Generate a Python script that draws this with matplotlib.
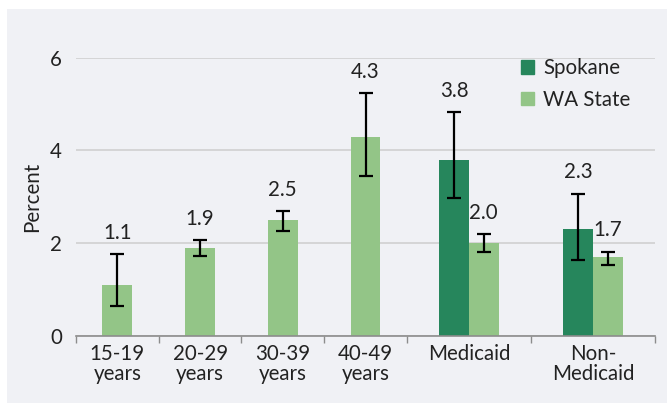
import numpy as np
import matplotlib
matplotlib.use("Agg")
import matplotlib.pyplot as plt
from matplotlib.patches import Rectangle

categories = ["15-19\nyears", "20-29\nyears", "30-39\nyears", "40-49\nyears", "Medicaid", "Non-\nMedicaid"]
cat_widths = [1, 1, 1, 1, 1.5, 1.5]
spokane = [np.nan, np.nan, np.nan, np.nan, 3.8, 2.3]
spokane_lo = [np.nan, np.nan, np.nan, np.nan, 2.98, 1.64]
spokane_hi = [np.nan, np.nan, np.nan, np.nan, 4.83, 3.07]
wa = [1.1, 1.9, 2.5, 4.3, 2.0, 1.7]
wa_lo = [0.65, 1.73, 2.26, 3.45, 1.81, 1.53]
wa_hi = [1.77, 2.07, 2.70, 5.24, 2.20, 1.82]
yticks = [0, 2, 4, 6]

DARK = "#26865C"
LIGHT = "#93C587"
BG = "#F0F1F5"
TXT = "#222222"
FONT = ["Lato", "DejaVu Sans"]
plt.rcParams["font.family"] = FONT

fig = plt.figure(figsize=(6.67, 4.04), dpi=100)
fig.patch.set_facecolor("white")
bgrect = Rectangle((7 / 667, 1 / 404), 660 / 667, 394 / 404,
                   transform=fig.transFigure, facecolor=BG,
                   edgecolor="none", zorder=-10)
fig.patches.append(bgrect)
ax = fig.add_axes([76 / 667, (404 - 336) / 404, (655 - 76) / 667, (336 - 57.7) / 404])
ax.set_facecolor("none")
ax.set_zorder(1)

edges = np.concatenate([[0], np.cumsum(cat_widths)])
centers = (edges[:-1] + edges[1:]) / 2
bw = 0.36

fs = 14.8
for i, c in enumerate(centers):
    has_sp = not np.isnan(spokane[i])
    if has_sp:
        xs = c - bw / 2
        xw = c + bw / 2
        ax.bar(xs, spokane[i], width=bw, color=DARK, zorder=3)
        ax.errorbar(xs, spokane[i], yerr=[[spokane[i] - spokane_lo[i]], [spokane_hi[i] - spokane[i]]],
                    fmt="none", ecolor="black", elinewidth=1.6, capsize=5, capthick=1.6, zorder=4)
        ax.annotate(f"{spokane[i]:.1f}", (xs, spokane_hi[i]), xytext=(0, 8), textcoords="offset points",
                    ha="center", va="bottom", fontsize=fs, color=TXT)
    else:
        xw = c
    ax.bar(xw, wa[i], width=bw, color=LIGHT, zorder=3)
    ax.errorbar(xw, wa[i], yerr=[[wa[i] - wa_lo[i]], [wa_hi[i] - wa[i]]],
                fmt="none", ecolor="black", elinewidth=1.6, capsize=5, capthick=1.6, zorder=4)
    ax.annotate(f"{wa[i]:.1f}", (xw, wa_hi[i]), xytext=(0, 8), textcoords="offset points",
                ha="center", va="bottom", fontsize=fs, color=TXT)

ax.set_xlim(edges[0], edges[-1])
ax.set_ylim(0, 6)
ax.set_yticks(yticks)
ax.set_yticklabels([str(t) for t in yticks], fontsize=fs, color=TXT)
ax.yaxis.grid(True, color="#D3D3D3", linewidth=1.3, zorder=1)
ax.set_axisbelow(True)
ax.tick_params(axis="y", length=0, pad=10)

ax.set_xticks(edges)
ax.set_xticklabels([""] * len(edges))
ax.tick_params(axis="x", length=5, width=1, color="#8C8C8C", direction="out")
ax.set_xticks(centers, minor=True)
ax.set_xticklabels(categories, minor=True, fontsize=fs, color=TXT, linespacing=1.0)
ax.tick_params(axis="x", which="minor", length=0, pad=6)

for s in ["top", "right", "left"]:
    ax.spines[s].set_visible(False)
ax.spines["bottom"].set_color("#8C8C8C")
ax.spines["bottom"].set_linewidth(1.2)
ax.spines["bottom"].set_zorder(5)

ax.set_ylabel("Percent", fontsize=fs, color=TXT, labelpad=6)

h1 = Rectangle((0, 0), 1, 1, color=DARK)
h2 = Rectangle((0, 0), 1, 1, color=LIGHT)
leg = fig.legend([h1, h2], ["Spokane", "WA State"], loc="upper left",
                 bbox_to_anchor=(502 / 667, 1 - 40 / 404), frameon=False,
                 fontsize=fs, handlelength=0.65, handleheight=0.65, handletextpad=0.45,
                 labelspacing=0.55, labelcolor=TXT)

fig.savefig("out.png", dpi=100, facecolor=fig.get_facecolor())
